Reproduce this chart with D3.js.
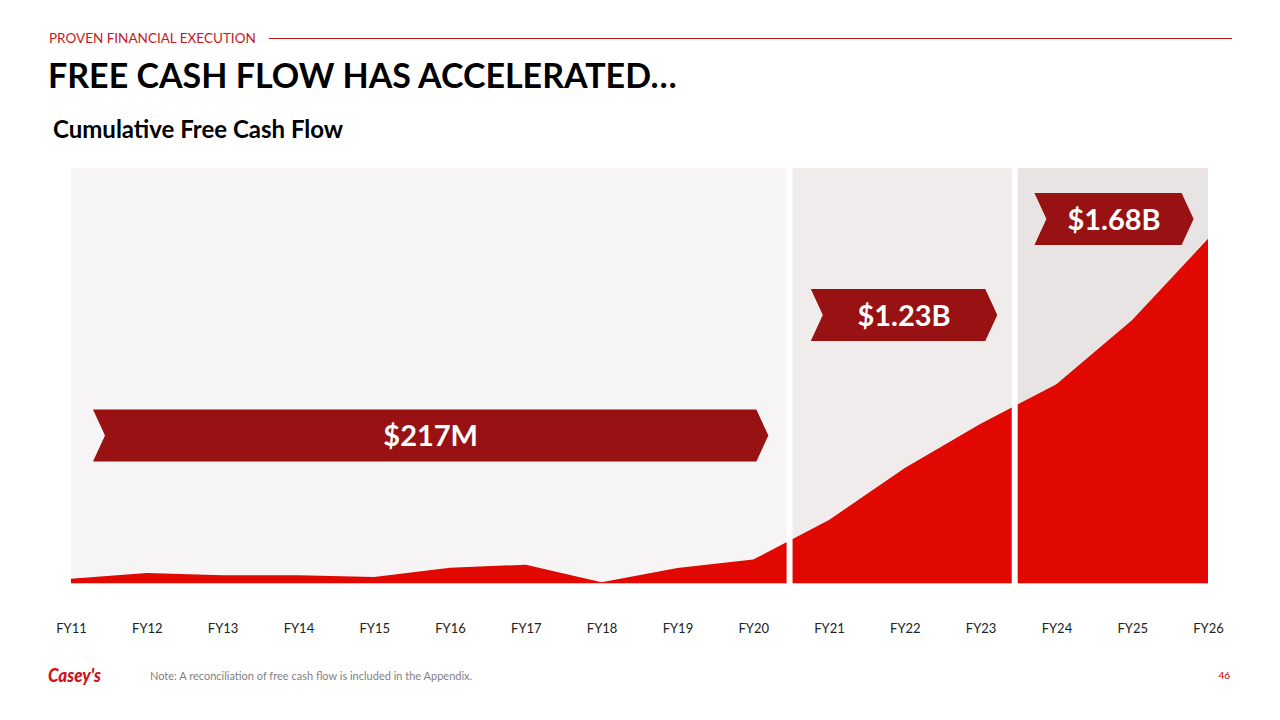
<!DOCTYPE html>
<html lang="en">

<head>
  <meta charset="UTF-8">
  <title>Cumulative Free Cash Flow</title>
  <script src="https://d3js.org/d3.v7.min.js"></script>
  <style>
    body {
      margin: 0;
      background: #ffffff;
    }

    svg {
      display: block;
      font-family: Lato, "Open Sans", sans-serif;
    }
  </style>
</head>

<body>
  <div id="chart"></div>
  <script>
    // cumulative free cash flow, $M
    const years = ["FY11", "FY12", "FY13", "FY14", "FY15", "FY16", "FY17", "FY18",
      "FY19", "FY20", "FY21", "FY22", "FY23", "FY24", "FY25", "FY26"];
    const cumulativeFCF = [44, 95, 74, 74, 59, 143, 171, 11, 141, 217,
      576, 1048, 1450, 1809, 2390, 3127];

    // period totals shown in the chevrons
    const periodLabels = ["$217M", "$1.23B", "$1.68B"];

    const width = 1280;
    const height = 720;

    // period panels in x-index units, split between FY20/FY21 and FY23/FY24
    const panelBreaks = [9.48, 12.45];
    const panelColors = ["#f6f4f4", "#efeceb", "#e8e4e3"];
    const gap = 6;

    // chevron placement: x span in index units, vertical centre in px
    const chevronLayout = [
      { from: 0.29, to: 9.2, cy: 435.5 },
      { from: 9.76, to: 12.22, cy: 315 },
      { from: 12.71, to: 14.81, cy: 219 }
    ];
    const chevronH = 52;
    const chevronDepth = 12;

    const x = d3.scaleLinear().domain([0, years.length - 1]).range([71, 1208]);
    const y = d3.scaleLinear().domain([0, 3770]).range([583.5, 168]);

    const svg = d3.select("#chart")
      .append("svg")
      .attr("width", width)
      .attr("height", height);

    // header
    const kicker = svg.append("text")
      .attr("x", 49)
      .attr("y", 42.5)
      .style("font-size", "13.5px")
      .style("fill", "#c8161d")
      .text("PROVEN FINANCIAL EXECUTION");

    const kw = kicker.node().getComputedTextLength();
    svg.append("line")
      .attr("x1", 49 + kw + 13)
      .attr("x2", 1232)
      .attr("y1", 38.5)
      .attr("y2", 38.5)
      .style("stroke", "#b8161a")
      .style("stroke-width", 1.2);

    svg.append("text")
      .attr("x", 48)
      .attr("y", 88)
      .style("font-size", "34px")
      .style("font-weight", 700)
      .style("fill", "#000")
      .text("FREE CASH FLOW HAS ACCELERATED…");

    svg.append("text")
      .attr("x", 53)
      .attr("y", 138)
      .style("font-size", "24px")
      .style("font-weight", 700)
      .style("fill", "#000")
      .text("Cumulative Free Cash Flow");

    // panels
    const edges = [0, ...panelBreaks, years.length - 1];
    const panels = d3.range(edges.length - 1).map(i => {
      const x0 = x(edges[i]) + (i > 0 ? gap / 2 : 0);
      const x1 = x(edges[i + 1]) - (i < edges.length - 2 ? gap / 2 : 0);
      return { x0, x1, color: panelColors[i] };
    });

    svg.selectAll(".panel")
      .data(panels)
      .enter()
      .append("rect")
      .attr("class", "panel")
      .attr("x", d => d.x0)
      .attr("y", y.range()[1])
      .attr("width", d => d.x1 - d.x0)
      .attr("height", y.range()[0] - y.range()[1])
      .style("fill", d => d.color);

    const clip = svg.append("clipPath").attr("id", "panel-clip");
    clip.selectAll("rect")
      .data(panels)
      .enter()
      .append("rect")
      .attr("x", d => d.x0)
      .attr("y", y.range()[1])
      .attr("width", d => d.x1 - d.x0)
      .attr("height", y.range()[0] - y.range()[1]);

    // area
    const area = d3.area()
      .x((d, i) => x(i))
      .y0(y(0))
      .y1(d => y(d));

    svg.append("path")
      .datum(cumulativeFCF)
      .attr("clip-path", "url(#panel-clip)")
      .attr("d", area)
      .style("fill", "#e00800");

    // chevrons
    function chevron(d) {
      const x0 = x(d.from), x1 = x(d.to);
      const t = d.cy - chevronH / 2, b = d.cy + chevronH / 2;
      return `M${x0},${t} L${x1 - chevronDepth},${t} L${x1},${d.cy} L${x1 - chevronDepth},${b}
        L${x0},${b} L${x0 + chevronDepth},${d.cy} Z`;
    }

    const chev = svg.selectAll(".chevron")
      .data(chevronLayout)
      .enter()
      .append("g")
      .attr("class", "chevron");

    chev.append("path")
      .attr("d", chevron)
      .style("fill", "#981113");

    chev.append("text")
      .attr("x", d => (x(d.from) + x(d.to)) / 2)
      .attr("y", d => d.cy + 10.5)
      .style("text-anchor", "middle")
      .style("font-size", "29px")
      .style("font-weight", 700)
      .style("fill", "#ffffff")
      .text((d, i) => periodLabels[i]);

    // x axis
    const xAxis = d3.axisBottom(x)
      .tickValues(d3.range(years.length))
      .tickFormat(i => years[i])
      .tickSize(0)
      .tickPadding(40.5);

    const axisG = svg.append("g")
      .attr("transform", `translate(0, ${y(0)})`)
      .call(xAxis);
    axisG.select(".domain").remove();
    axisG.selectAll("text")
      .style("font-family", "Lato, sans-serif")
      .style("font-size", "13px")
      .style("fill", "#222");

    // footer
    svg.append("text")
      .attr("x", 48)
      .attr("y", 682)
      .attr("textLength", 53)
      .attr("lengthAdjust", "spacingAndGlyphs")
      .style("font-size", "19px")
      .style("font-weight", 900)
      .style("font-style", "italic")
      .style("fill", "#d0121b")
      .text("Casey's");

    svg.append("text")
      .attr("x", 150)
      .attr("y", 680)
      .style("font-size", "11px")
      .style("fill", "#858080")
      .text("Note: A reconciliation of free cash flow is included in the Appendix.");

    svg.append("text")
      .attr("x", 1230)
      .attr("y", 679)
      .style("text-anchor", "end")
      .style("font-size", "10px")
      .style("fill", "#c00000")
      .text("46");
  </script>
</body>

</html>
